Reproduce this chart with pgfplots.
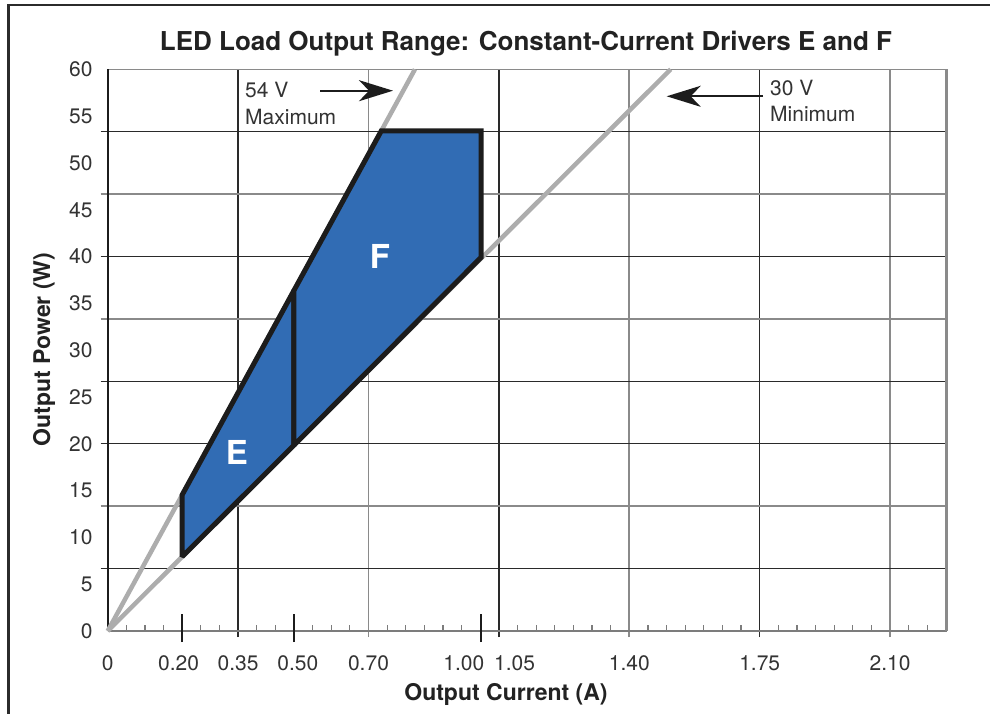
\documentclass[border=0pt]{standalone}
\usepackage{pgfplots}
\pgfplotsset{compat=1.18}
\usepackage{fontspec}
\setmainfont{TeX Gyre Heros}
\usetikzlibrary{arrows.meta}
\definecolor{myblue}{HTML}{316CB4}
\definecolor{outl}{HTML}{1C1C1C}
\definecolor{vline}{HTML}{ADADAD}
\definecolor{darkgrid}{HTML}{2A2A2A}
\definecolor{lightgrid}{HTML}{8A8A8A}
\definecolor{axgray}{HTML}{7C7C7C}
\definecolor{txt}{HTML}{333333}
\definecolor{titlec}{HTML}{222222}
\definecolor{framec}{HTML}{2B2B2B}
\begin{document}
\begin{tikzpicture}[x=1pt,y=1pt]
\useasboundingbox (0,0) rectangle (990,713);
\fill[white] (0,0) rectangle (990,713);
\draw[framec, line width=2.5pt] (8.3,-5) -- (8.3,708) -- (1000,708);
\begin{axis}[
  at={(107.7pt,82pt)}, anchor=south west,
  scale only axis, width=839pt, height=561.7pt,
  xmin=0, xmax=2.252, ymin=0, ymax=60,
  clip=false,
  axis line style={draw=none},
  xtick pos=left, ytick pos=left,
  tick align=inside,
  major tick length=0pt,
  minor tick length=6pt,
  minor tick style={axgray, line width=1.2pt},
  xtick={0,0.2,0.35,0.5,0.7,1.0,1.05,1.4,1.75,2.1},
  xticklabels={0,\makebox[0pt]{0.20\hspace{7.2pt}},0.35,\makebox[0pt]{\hspace{7.6pt}0.50},0.70,\makebox[0pt][r]{1.00\hspace{-4pt}},\makebox[0pt][l]{\hspace{-4.7pt}1.05},1.40,1.75,2.10},
  minor xtick={0.05,0.1,...,2.21},
  ytick={0,5,10,15,20,25,30,35,40,45,50,55,60},
  yticklabels={0,5,10,15,20,25,30,35,40,45,50,55,60},
  ticklabel style={font=\fontsize{21}{24}\selectfont, text=txt, inner sep=0pt},
  xticklabel style={anchor=north, yshift=-24pt},
  yticklabel style={anchor=east, xshift=-15pt},
]
% grid lines
\pgfplotsinvokeforeach{0.35,1.05,1.75}{
  \draw[darkgrid, line width=1.3pt] ([yshift=-6pt]axis cs:#1,0) -- (axis cs:#1,60);
}
\pgfplotsinvokeforeach{0.7,1.4,2.1}{
  \draw[lightgrid, line width=1.6pt] ([yshift=-6pt]axis cs:#1,0) -- (axis cs:#1,60);
}
\pgfplotsinvokeforeach{6.6667,20,26.6667,40,53.3333}{
  \draw[darkgrid, line width=1.3pt] ([xshift=-7pt]axis cs:0,#1) -- (axis cs:2.252,#1);
}
\pgfplotsinvokeforeach{13.3333,33.3333,46.6667}{
  \draw[lightgrid, line width=1.6pt] ([xshift=-7pt]axis cs:0,#1) -- (axis cs:2.252,#1);
}
% axis lines
\draw[axgray, line width=2pt] (axis cs:0,0) -- (axis cs:2.252,0);
\draw[lightgrid, line width=1.5pt] (axis cs:0,60) -- (axis cs:2.252,60);
\draw[lightgrid, line width=2.5pt] (axis cs:2.252,0) -- (axis cs:2.252,60);
\draw[outl, line width=2pt] (axis cs:0,0) -- (axis cs:0,60);
% voltage lines
\addplot[vline, line width=4.5pt, line cap=butt] coordinates {(0,0) (0.8247,60)};
\addplot[vline, line width=4.5pt, line cap=butt] coordinates {(0,0) (1.5111,60)};
% driver regions
\addplot[fill=myblue, draw=outl, line width=5pt, line join=miter, miter limit=2]
  coordinates {(0.2,7.94) (0.2,14.55) (0.5,36.38) (0.5,19.85)} -- cycle;
\addplot[fill=myblue, draw=outl, line width=5pt, line join=miter, miter limit=2]
  coordinates {(0.5,19.85) (0.5,36.38) (0.7342,53.41) (1.002,53.41) (1.002,39.9)} -- cycle;
% big ticks
\pgfplotsinvokeforeach{0.2,0.5,1.002}{
  \draw[outl, line width=2.5pt] ([yshift=-11pt]axis cs:#1,0) -- ([yshift=17pt]axis cs:#1,0);
}
\end{axis}
% title and labels
\node[anchor=base, font=\fontsize{26}{30}\selectfont\bfseries, text=titlec] at (526,662) {LED Load Output Range: Constant-Current Drivers E and F};
\node[anchor=base, font=\fontsize{23}{27}\selectfont\bfseries, text=titlec] at (506,13) {Output Current (A)};
\node[anchor=base, rotate=90, font=\fontsize{23}{27}\selectfont\bfseries, text=titlec] at (50,363.5) {Output Power (W)};
% annotations
\node[anchor=base west, inner sep=0pt, font=\fontsize{21}{25}\selectfont, text=txt] at (245,615) {54 V};
\node[anchor=base west, inner sep=0pt, font=\fontsize{21}{25}\selectfont, text=txt] at (245,588) {Maximum};
\node[anchor=base west, inner sep=0pt, font=\fontsize{21}{25}\selectfont, text=txt] at (770,617.3) {30 V};
\node[anchor=base west, inner sep=0pt, font=\fontsize{21}{25}\selectfont, text=txt] at (770,591.3) {Minimum};
\draw[outl, line width=2pt, -{Stealth[length=34pt,width=21pt,inset=10pt]}] (320,622.3) -- (393,622.3);
\draw[outl, line width=2pt, -{Stealth[length=34pt,width=21pt,inset=10pt]}] (763,616.7) -- (666.7,616.7);
\node[font=\fontsize{33}{36}\selectfont\bfseries, text=white, inner sep=0pt] at (237,261) {E};
\node[font=\fontsize{33}{36}\selectfont\bfseries, text=white, inner sep=0pt] at (380,456.3) {F};
\end{tikzpicture}
\end{document}
